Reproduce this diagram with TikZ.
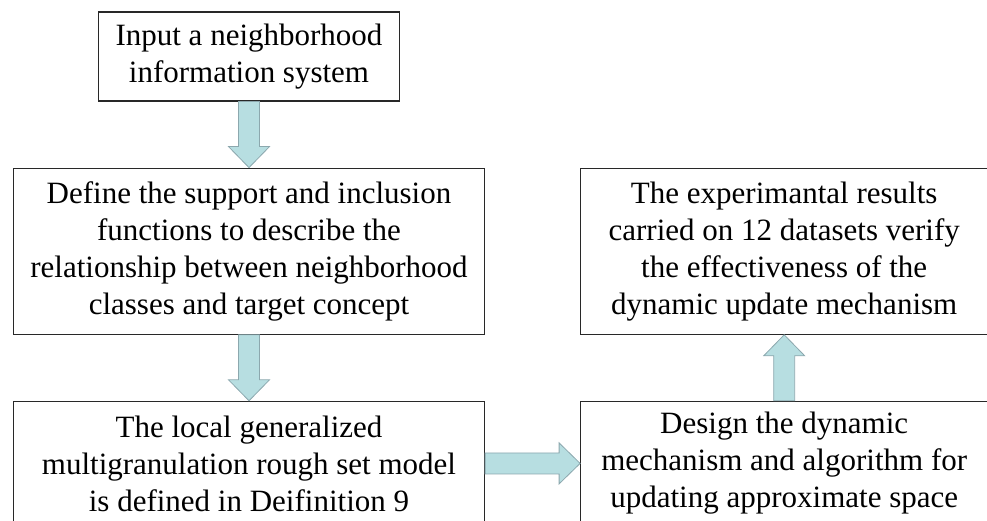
\documentclass[tikz,border=0pt]{standalone}
\usepackage{fontspec}
\setmainfont{Liberation Serif}
\usepackage{tikz}
\usetikzlibrary{calc,positioning}
\definecolor{boxline}{RGB}{40,40,40}
\definecolor{arrowfill}{RGB}{183,222,225}
\definecolor{arrowedge}{RGB}{140,168,174}

\begin{document}
\begin{tikzpicture}[
    x=1pt,y=1pt,
    flowbox/.style={rectangle,draw=boxline,line width=1.2pt,fill=white,align=center,inner sep=0pt,
        font=\fontsize{31}{37}\selectfont},
    fatarrow/.style={draw=arrowedge,fill=arrowfill,line width=0.8pt,
        to path={let \p1=(\tikztostart), \p2=(\tikztotarget),
            \n1={atan2(\y2-\y1,\x2-\x1)}, \n2={veclen(\x2-\x1,\y2-\y1)} in
            {[shift={(\p1)},rotate=\n1] (0,-10.5) -- (\n2-21,-10.5) -- (\n2-21,-20.5) -- (\n2,0)
            -- (\n2-21,20.5) -- (\n2-21,10.5) -- (0,10.5) -- cycle}}},
    node distance=66pt
]
    \useasboundingbox (0,0) rectangle (987,520);
    \clip (0,0) rectangle (987,520);

    % left column
    \node[flowbox,minimum width=301pt,minimum height=89pt] (input) at (249,463.5)
        {Input a neighborhood\\information system};
    \node[flowbox,minimum width=471pt,minimum height=166pt,below=of input] (define)
        {Define the support and inclusion\\functions to describe the\\relationship between neighborhood\\classes and target concept};
    \node[flowbox,minimum width=471pt,minimum height=124pt,below=of define] (model)
        {The local generalized\\multigranulation rough set model\\is defined in Deifinition 9};

    % right column
    \node[flowbox,minimum width=407pt,minimum height=124pt,right=95pt of model] (design)
        {Design the dynamic\\mechanism and algorithm for\\updating approximate space};
    \node[flowbox,minimum width=407pt,minimum height=166pt,above=of design] (results)
        {The experimantal results\\carried on 12 datasets verify\\the effectiveness of the\\dynamic update mechanism};

    \path[fatarrow] (input.south) to (define.north);
    \path[fatarrow] (define.south) to (model.north);
    \path[fatarrow] (model.east) to (design.west);
    \path[fatarrow] (design.north) to (results.south);
\end{tikzpicture}
\end{document}
